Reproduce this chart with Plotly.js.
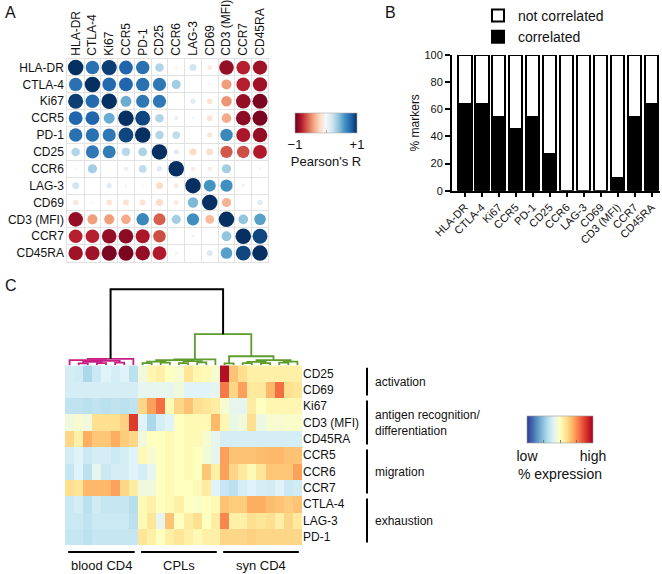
<!DOCTYPE html>
<html><head><meta charset="utf-8">
<script src="https://cdn.plot.ly/plotly-3.0.1.min.js"></script>
<style>body{margin:0;background:#fff}#chart{width:662px;height:574px}</style>
</head><body><div id="chart"></div>
<script>
const W = 662, H = 574;
const px = x => x / W, py = y => 1 - y / H;
const FONT = 'Liberation Sans, Arial, Helvetica, sans-serif';

// ---------- Panel A: correlation matrix ----------
const corrMarkers = ['HLA-DR','CTLA-4','Ki67','CCR5','PD-1','CD25','CCR6','LAG-3','CD69','CD3 (MFI)','CCR7','CD45RA'];
const rHLADR  = [1.00, 0.75, 0.95, 0.80, 0.75, 0.30,-0.04, 0.20,-0.10,-0.88,-0.78,-0.85];
const rCTLA4  = [0.75, 1.00, 0.78, 0.80, 0.75, 0.72, 0.35, 0.00,-0.03,-0.42,-0.78,-0.85];
const rKi67   = [0.95, 0.78, 1.00, 0.50, 0.72, 0.72, 0.00, 0.12,-0.14,-0.45,-0.88,-0.95];
const rCCR5   = [0.80, 0.80, 0.50, 1.00, 0.92, 0.30, 0.08, 0.03,-0.14,-0.38,-0.90,-0.95];
const rPD1    = [0.75, 0.75, 0.72, 0.92, 1.00, 0.30, 0.25, 0.00,-0.12, 0.65,-0.82,-0.88];
const rCD25   = [0.30, 0.72, 0.70, 0.28, 0.32, 1.00, 0.12,-0.20,-0.18,-0.62,-0.65,-0.80];
const rCCR6   = [-0.03,0.35, 0.00, 0.08, 0.25, 0.12, 1.00,-0.08,-0.08, 0.35, 0.00,-0.04];
const rLAG3   = [0.20, 0.00, 0.12, 0.03, 0.02,-0.20,-0.10, 1.00, 0.60, 0.62,-0.05, 0.00];
const rCD69   = [-0.12,-0.03,-0.14,-0.15,-0.14,-0.20,-0.10,0.45, 1.00,-0.35, 0.00, 0.12];
const rCD3    = [-0.88,-0.42,-0.42,-0.38,0.65,-0.60, 0.35, 0.62,-0.32, 1.00, 0.40, 0.55];
const rCCR7   = [-0.78,-0.78,-0.88,-0.90,-0.82,-0.65,0.00,-0.04, 0.00, 0.40, 1.00, 0.92];
const rCD45RA = [-0.85,-0.85,-0.95,-0.95,-0.88,-0.80,-0.04,0.00, 0.15, 0.55, 0.92, 1.00];
const corrRows = [rHLADR, rCTLA4, rKi67, rCCR5, rPD1, rCD25, rCCR6, rLAG3, rCD69, rCD3, rCCR7, rCD45RA];

// ---------- Panel B: stacked bars ----------
const barMarkers = ['HLA-DR','CTLA-4','Ki67','CCR5','PD-1','CD25','CCR6','LAG-3','CD69','CD3 (MFI)','CCR7','CD45RA'];
const correlatedPct    = [63.6, 63.6, 54.5, 45.5, 54.5, 27.3, 0, 0, 0, 9.1, 54.5, 63.6];
const notCorrelatedPct = [36.4, 36.4, 45.5, 54.5, 45.5, 72.7, 100, 100, 100, 90.9, 45.5, 36.4];

// ---------- Panel C: heatmap ----------
const heatMarkers = ['CD25','CD69','Ki67','CD3 (MFI)','CD45RA','CCR5','CCR6','CCR7','CTLA-4','LAG-3','PD-1'];
const sampleGroups = ['blood CD4','CPLs','syn CD4'];
const sampleGroupSizes = [8, 9, 9];
const markerGroups = ['activation','antigen recognition/<br>differentiation','migration','exhaustion'];
const markerGroupSizes = [2, 3, 3, 3];
const hCD25   = [0.38,0.37,0.30,0.36,0.40,0.38,0.40,0.33, 0.45,0.53,0.55,0.50,0.47,0.58,0.53,0.52,0.47, 0.97,0.66,0.60,0.55,0.55,0.55,0.55,0.55,0.55];
const hCD69   = [0.38,0.38,0.38,0.38,0.38,0.38,0.38,0.38, 0.42,0.42,0.42,0.42,0.45,0.40,0.40,0.40,0.42, 0.78,0.62,0.72,0.57,0.57,0.68,0.80,0.60,0.58];
const hKi67   = [0.34,0.34,0.33,0.34,0.33,0.34,0.33,0.34, 0.62,0.72,0.80,0.52,0.62,0.66,0.60,0.58,0.56, 0.47,0.42,0.42,0.56,0.50,0.53,0.53,0.53,0.53];
const hCD3    = [0.45,0.47,0.45,0.60,0.60,0.60,0.63,0.88, 0.40,0.30,0.38,0.40,0.50,0.52,0.52,0.52,0.68, 0.53,0.43,0.45,0.60,0.44,0.47,0.47,0.48,0.48];
const hCD45RA = [0.62,0.55,0.70,0.65,0.65,0.70,0.64,0.62, 0.45,0.50,0.50,0.52,0.50,0.52,0.52,0.47,0.42, 0.38,0.38,0.38,0.38,0.38,0.38,0.38,0.38,0.38];
const hCCR5   = [0.38,0.40,0.36,0.38,0.38,0.36,0.38,0.40, 0.52,0.47,0.50,0.52,0.50,0.52,0.50,0.46,0.42, 0.72,0.66,0.66,0.66,0.67,0.68,0.68,0.66,0.66];
const hCCR6   = [0.35,0.40,0.33,0.42,0.36,0.38,0.38,0.40, 0.38,0.42,0.50,0.52,0.50,0.52,0.50,0.65,0.55, 0.72,0.62,0.57,0.52,0.58,0.65,0.65,0.65,0.72];
const hCCR7   = [0.60,0.58,0.68,0.68,0.68,0.72,0.62,0.56, 0.45,0.45,0.50,0.52,0.50,0.50,0.52,0.56,0.40, 0.35,0.33,0.38,0.40,0.38,0.37,0.40,0.36,0.37];
const hCTLA4  = [0.36,0.38,0.33,0.37,0.35,0.35,0.35,0.32, 0.52,0.55,0.50,0.52,0.55,0.50,0.48,0.50,0.52, 0.66,0.64,0.64,0.70,0.70,0.67,0.66,0.64,0.66];
const hLAG3   = [0.36,0.36,0.34,0.36,0.36,0.36,0.36,0.33, 0.52,0.58,0.42,0.66,0.50,0.56,0.60,0.50,0.56, 0.76,0.55,0.55,0.60,0.58,0.60,0.55,0.62,0.57];
const hPD1    = [0.35,0.35,0.33,0.35,0.35,0.35,0.35,0.35, 0.58,0.55,0.50,0.55,0.58,0.55,0.52,0.55,0.55, 0.62,0.62,0.62,0.63,0.62,0.62,0.62,0.62,0.62];
const heatRows = [hCD25, hCD69, hKi67, hCD3, hCD45RA, hCCR5, hCCR6, hCCR7, hCTLA4, hLAG3, hPD1];

// dendrogram linkage over the 26 samples: [child a, child b, height]; ids >= 26 refer to earlier merges
const linkage = [
  [1,2,0.25],[3,4,0.30],[26,27,0.45],[5,6,0.35],[28,29,0.60],[0,30,0.70],[31,7,0.85],
  [8,9,0.30],[10,11,0.35],[12,13,0.30],[14,15,0.40],[33,34,0.50],[35,36,0.55],[37,38,0.70],[39,16,0.80],
  [17,18,0.25],[19,20,0.30],[21,22,0.30],[23,24,0.35],[42,43,0.45],[44,25,0.50],[45,46,0.70],[41,47,1.20],
  [40,48,4.1],[32,49,10]
];

// ---------- build traces ----------
const sx = [], sy = [], sz = [], sc = [];
corrRows.forEach((row, i) => row.forEach((r, j) => {
  sx.push(j); sy.push(i); sz.push(15.5 * Math.sqrt(Math.abs(r))); sc.push(r);
}));
const rdbu = [[0,'#67001f'],[0.1,'#b2182b'],[0.2,'#d6604d'],[0.3,'#f4a582'],[0.4,'#fddbc7'],[0.5,'#f7f7f7'],
              [0.6,'#d1e5f0'],[0.7,'#92c5de'],[0.8,'#4393c3'],[0.9,'#2166ac'],[1,'#053061']];
const rdylbu = [[0,'#313695'],[0.1,'#4575b4'],[0.2,'#74add1'],[0.3,'#abd9e9'],[0.4,'#e0f3f8'],[0.5,'#ffffbf'],
                [0.6,'#fee090'],[0.7,'#fdae61'],[0.8,'#f46d43'],[0.9,'#d73027'],[1,'#a50026']];

const corrTrace = {
  type:'scatter', mode:'markers', x:sx, y:sy, xaxis:'x', yaxis:'y', showlegend:false, hoverinfo:'skip',
  marker:{size:sz, color:sc, colorscale:rdbu, cmin:-1, cmax:1, opacity:1, line:{width:0},
    colorbar:{orientation:'h', x:px(326), xanchor:'center', y:py(113), yanchor:'top',
      len:62, lenmode:'pixels', thickness:20, thicknessmode:'pixels', xpad:0, ypad:0,
      outlinewidth:0.6, outlinecolor:'#aaa', tickmode:'array', tickvals:[-1,-0.5,0,0.5,1], ticktext:['\u22121','','','','+1'],
      ticks:'inside', ticklen:3, tickcolor:'#999', tickwidth:0.8,
      tickfont:{size:13, family:FONT, color:'#111'},
      title:{text:"Pearson's R", side:'bottom', font:{size:13, family:FONT, color:'#111'}}}}
};

const barCorr = {type:'bar', name:'correlated', x:barMarkers, y:correlatedPct, xaxis:'x2', yaxis:'y2',
  width:0.8, marker:{color:'#000', line:{color:'#000', width:2}}, hoverinfo:'skip'};
const barNot = {type:'bar', name:'not correlated', x:barMarkers, y:notCorrelatedPct, xaxis:'x2', yaxis:'y2',
  width:0.8, marker:{color:'#fff', line:{color:'#000', width:2}}, hoverinfo:'skip'};

const nSamples = heatRows[0].length;
const sampleIdx = Array.from({length:nSamples}, (_, k) => k);
const heatTrace = {type:'heatmap', z:heatRows, x:sampleIdx, y:heatMarkers.map((_, i) => i), xaxis:'x3', yaxis:'y3',
  zmin:0, zmax:1, colorscale:rdylbu, showlegend:false, hoverinfo:'skip', xgap:0, ygap:0,
  colorbar:{orientation:'h', x:px(560), xanchor:'center', y:py(416), yanchor:'top',
    len:66, lenmode:'pixels', thickness:27, thicknessmode:'pixels', xpad:0, ypad:0,
    outlinewidth:0.6, outlinecolor:'#999', tickmode:'array', tickvals:[0,0.25,0.5,0.75,1], ticktext:['low','','','','high'],
    ticks:'inside', ticklen:3, tickcolor:'#666', tickwidth:0.8,
    tickfont:{size:14, family:FONT, color:'#111'},
    title:{text:'% expression', side:'bottom', font:{size:14, family:FONT, color:'#111'}}}};

// dendrogram geometry from linkage
const pos = {}, hgt = {}, members = {};
for (let k = 0; k < nSamples; k++) { pos[k] = k; hgt[k] = 0; members[k] = [k]; }
const bloodN = sampleGroupSizes[0];
const dend = {pink:{x:[],y:[]}, green:{x:[],y:[]}, black:{x:[],y:[]}};
linkage.forEach((m, idx) => {
  const id = nSamples + idx, [a, b, h] = m;
  pos[id] = (pos[a] + pos[b]) / 2; hgt[id] = h; members[id] = members[a].concat(members[b]);
  let key;
  if (idx === linkage.length - 1) key = 'black';
  else if (members[id].every(v => v < bloodN)) key = 'pink';
  else key = 'green';
  const d = dend[key];
  d.x.push(pos[a], pos[a], pos[b], pos[b], null);
  d.y.push(hgt[a], h, h, hgt[b], null);
});
const dendColors = {pink:'#c81e84', green:'#5e9c2c', black:'#000'};
const dendTraces = Object.keys(dend).map(k => ({type:'scatter', mode:'lines', x:dend[k].x, y:dend[k].y,
  xaxis:'x3', yaxis:'y4', showlegend:false, hoverinfo:'skip', line:{color:dendColors[k], width:k === 'black' ? 2 : 1.8}}));

// ---------- shapes & annotations ----------
const shapes = [], annotations = [];
const tf = (s) => ({size:s, family:FONT, color:'#111'});
let start = 0;
sampleGroups.forEach((g, i) => {
  const s0 = start - 0.5, s1 = start + sampleGroupSizes[i] - 0.5;
  shapes.push({type:'line', xref:'x3', yref:'paper', x0:s0 + 0.35, x1:s1 - 0.35, y0:py(552), y1:py(552), line:{color:'#000', width:2}});
  annotations.push({xref:'x3', yref:'paper', x:(s0 + s1) / 2, y:py(565), text:g, showarrow:false, font:tf(13), yanchor:'middle'});
  start += sampleGroupSizes[i];
});
start = 0;
markerGroups.forEach((g, i) => {
  const r0 = start - 0.5, r1 = start + markerGroupSizes[i] - 0.5;
  shapes.push({type:'line', xref:'paper', yref:'y3', x0:px(367), x1:px(367), y0:r0 + 0.15, y1:r1 - 0.15, line:{color:'#000', width:2}});
  annotations.push({xref:'paper', yref:'y3', x:px(373), y:(r0 + r1) / 2, text:g, showarrow:false, font:tf(12), xanchor:'left', align:'left'});
  start += markerGroupSizes[i];
});
[['A', 3, 12], ['B', 383, 12], ['C', 3, 285]].forEach(([t, x, y]) =>
  annotations.push({xref:'paper', yref:'paper', x:px(x), y:py(y), text:t, showarrow:false, xanchor:'left', yanchor:'middle', font:tf(16)}));

const idx12 = corrMarkers.map((_, i) => i);
const layout = {
  width:W, height:H, margin:{l:0, r:0, t:0, b:0}, paper_bgcolor:'#fff', plot_bgcolor:'rgba(0,0,0,0)',
  font:{family:FONT, color:'#111'}, barmode:'stack', bargap:0.2,
  showlegend:true,
  legend:{x:px(478), y:py(-1), xanchor:'left', yanchor:'top', traceorder:'reversed', font:{size:14, family:FONT, color:'#111'},
    bgcolor:'rgba(0,0,0,0)', tracegroupgap:0, itemsizing:'constant'},
  xaxis:{domain:[px(67.3), px(268.4)], range:[-0.5, 11.5], anchor:'y', side:'top', tickmode:'array', tickvals:idx12, ticktext:corrMarkers,
    tickangle:-90, ticks:'', showgrid:false, zeroline:false, showline:true, mirror:true, linecolor:'#e2e2e2', linewidth:1,
    tickfont:tf(12), minor:{tickmode:'linear', tick0:-0.5, dtick:1, showgrid:true, gridcolor:'#e2e2e2', gridwidth:1, ticks:''}},
  yaxis:{domain:[py(261), py(58.2)], range:[11.5, -0.5], anchor:'x', tickmode:'array', tickvals:idx12, ticktext:corrMarkers,
    ticks:'', showgrid:false, zeroline:false, showline:true, mirror:true, linecolor:'#e2e2e2', linewidth:1,
    tickfont:tf(12), minor:{tickmode:'linear', tick0:-0.5, dtick:1, showgrid:true, gridcolor:'#e2e2e2', gridwidth:1, ticks:''}},
  xaxis2:{domain:[px(452), px(660)], range:[-0.75, 11.5], anchor:'y2', tickangle:-45, ticks:'outside', ticklen:4, tickwidth:2,
    tickcolor:'#000', showline:true, linewidth:2, linecolor:'#000', showgrid:false, zeroline:false, tickfont:tf(11)},
  yaxis2:{domain:[py(190), py(54)], range:[0, 100], anchor:'x2', dtick:20, ticks:'outside', ticklen:5, tickwidth:2, tickcolor:'#000',
    showline:true, linewidth:2, linecolor:'#000', showgrid:false, zeroline:false, tickfont:tf(11),
    title:{text:'% markers', font:tf(12), standoff:2}},
  xaxis3:{domain:[px(65), px(302)], range:[-0.5, nSamples - 0.5], anchor:'y3', showticklabels:false, ticks:'', showgrid:false, zeroline:false},
  yaxis3:{domain:[py(545), py(365)], range:[heatMarkers.length - 0.5, -0.5], anchor:'x3', side:'right', tickmode:'array',
    tickvals:heatMarkers.map((_, i) => i), ticktext:heatMarkers, ticks:'', showgrid:false, zeroline:false, tickfont:tf(12)},
  yaxis4:{domain:[py(365), py(286.5)], range:[0, 10.3], anchor:'x3', visible:false, showgrid:false, zeroline:false},
  shapes, annotations
};

Plotly.newPlot('chart', [corrTrace, heatTrace, ...dendTraces, barCorr, barNot], layout, {staticPlot:true, displayModeBar:false});
</script></body></html>
